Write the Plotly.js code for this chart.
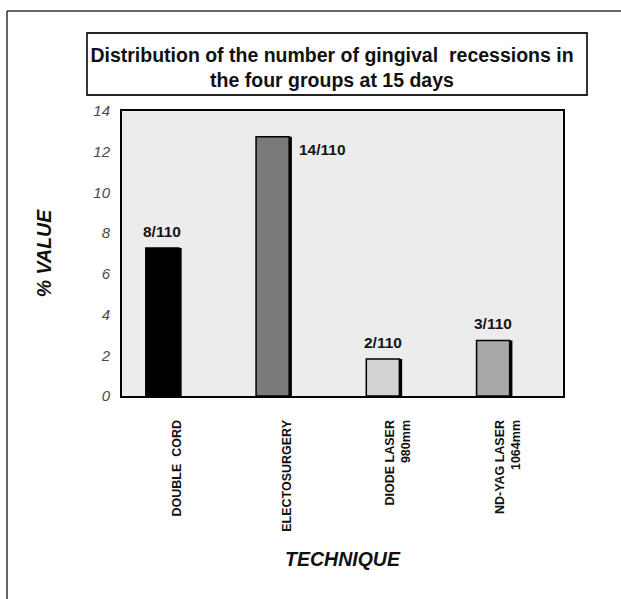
<!DOCTYPE html>
<html>
<head>
<meta charset="utf-8">
<script src="https://cdn.plot.ly/plotly-3.0.1.min.js"></script>
<style>html,body{margin:0;padding:0;background:#fff;}#chart{width:621px;height:599px;}</style>
</head>
<body>
<div id="chart"></div>
<script>
// ---- data ----
const techniques = ["DOUBLE  CORD", "ELECTOSURGERY", "DIODE LASER<br>980mm", "ND-YAG LASER<br>1064mm"];
const percentValues = [7.27, 12.73, 1.82, 2.73];
const countLabels = ["8/110", "14/110", "2/110", "3/110"];
const barColors = ["#000000", "#7a7a7a", "#d2d2d2", "#a9a9a9"];
const yTicks = [0, 2, 4, 6, 8, 10, 12, 14];

const W = 621, H = 599;
const M = {l: 122, r: 58, t: 111, b: 203};
const pw = W - M.l - M.r, ph = H - M.t - M.b;
const px = x => (x - M.l) / pw;           // pixel -> paper x
const py = y => (H - M.b - y) / ph;        // pixel -> paper y

const idx = techniques.map((_, i) => i);
const barOffset = -0.284, barWidth = 0.30;
const FONT = "Liberation Sans, Arial, sans-serif";

const shadow = {
  type: "bar", x: idx, y: percentValues,
  offset: barOffset + 0.025, width: barWidth,
  marker: {color: "#000", line: {width: 0}},
  hoverinfo: "skip", showlegend: false
};
const bars = {
  type: "bar", x: idx, y: percentValues,
  offset: barOffset, width: barWidth,
  marker: {color: barColors, line: {color: "#000", width: 1.5}},
  showlegend: false
};

const maxVal = Math.max(...percentValues);
const annotations = percentValues.map((v, i) => {
  const tallest = v === maxVal;
  return {
    x: i + barOffset + barWidth / 2, y: v, xref: "x", yref: "y",
    text: countLabels[i], showarrow: false,
    font: {family: FONT, size: 15.5, weight: "bold", color: "#151515"},
    xanchor: tallest ? "left" : "center",
    yanchor: tallest ? "middle" : "bottom",
    xshift: tallest ? 24 : 0,
    yshift: tallest ? -13 : 6
  };
});

const layout = {
  width: W, height: H,
  margin: M,
  paper_bgcolor: "#ffffff",
  plot_bgcolor: "#ececec",
  barmode: "overlay",
  showlegend: false,
  title: {
    text: "Distribution of the number of gingival  recessions in<br>the four groups at 15 days",
    font: {family: FONT, size: 19.5, weight: "bold", color: "#111"},
    x: 332 / W, xref: "container", xanchor: "center",
    y: 1 - 62 / H, yref: "container", yanchor: "middle"
  },
  xaxis: {
    type: "linear",
    range: [-0.5, techniques.length - 0.5],
    tickvals: idx, ticktext: techniques,
    tickangle: -90,
    ticks: "", ticklabelstandoff: 17,
    tickfont: {family: FONT, size: 12.5, weight: "bold", color: "#111"},
    showgrid: false, zeroline: false,
    showline: true, mirror: true, linecolor: "#000", linewidth: 2,
    title: {
      text: "TECHNIQUE", standoff: 22,
      font: {family: FONT, size: 19.5, weight: "bold", style: "italic", color: "#111"}
    }
  },
  yaxis: {
    range: [0, 14],
    tickvals: yTicks,
    ticks: "", ticklabelstandoff: 7,
    tickfont: {family: FONT, size: 15, style: "italic", color: "#4a4a4a"},
    showgrid: false, zeroline: false,
    showline: true, mirror: true, linecolor: "#000", linewidth: 2,
    title: {
      text: "% VALUE", standoff: 36,
      font: {family: FONT, size: 19.5, weight: "bold", style: "italic", color: "#111"}
    }
  },
  annotations: annotations,
  shapes: [
    // outer frame (top and left edges)
    {type: "line", xref: "paper", yref: "paper", x0: px(7), x1: px(W + 5), y0: py(11), y1: py(11), line: {color: "#333", width: 1.5}},
    {type: "line", xref: "paper", yref: "paper", x0: px(7), x1: px(7), y0: py(11), y1: py(H + 5), line: {color: "#333", width: 1.5}},
    // title box
    {type: "rect", xref: "paper", yref: "paper", x0: px(87), x1: px(587), y0: py(95), y1: py(33), line: {color: "#222", width: 1.8}, fillcolor: "rgba(0,0,0,0)"}
  ]
};

Plotly.newPlot("chart", [shadow, bars], layout, {displayModeBar: false, staticPlot: true});
</script>
</body>
</html>
